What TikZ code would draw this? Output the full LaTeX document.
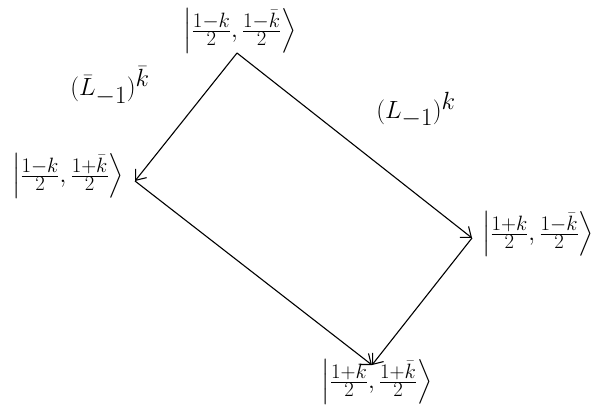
\documentclass[tikz,border=0pt]{standalone}
\usepackage{amsmath}
\usetikzlibrary{arrows.meta}
\newcommand{\myket}[2]{\Big|\tfrac{#1}{2},\tfrac{#2}{2}\Big\rangle}
\begin{document}
\begin{tikzpicture}[x=1pt,y=-1pt,
  ket/.style={inner sep=1pt,font=\fontsize{28}{32}\selectfont},
  lab/.style={inner sep=0pt,font=\fontsize{38}{44}\selectfont},
  conn/.style={line width=1.1pt,-{Straight Barb[length=9pt,width=14pt,line width=1.1pt]}}]
\useasboundingbox (0,0) rectangle (602,409);
\node[ket] (top) at (240,31) {$\myket{1-k}{1-\bar k}$};
\node[ket] (left) at (68,176) {$\myket{1-k}{1+\bar k}$};
\node[ket] (right) at (538,234) {$\myket{1+k}{1-\bar k}$};
\node[ket] (bottom) at (377,382) {$\myket{1+k}{1+\bar k}$};
\coordinate (vt) at (237,53);
\coordinate (vl) at (135,181);
\coordinate (vr) at (472,238);
\coordinate (vb) at (372,365);
\draw[conn] (vt) -- (vl);
\draw[conn] (vt) -- (vr);
\draw[conn] (vl) -- (vb);
\draw[conn] (vr) -- (vb);
\node[lab] (lbar) at (110,86) {$(\bar L_{-1})^{\bar k}$};
\node[lab] (lk) at (416,110) {$(L_{-1})^{k}$};
\end{tikzpicture}
\end{document}
